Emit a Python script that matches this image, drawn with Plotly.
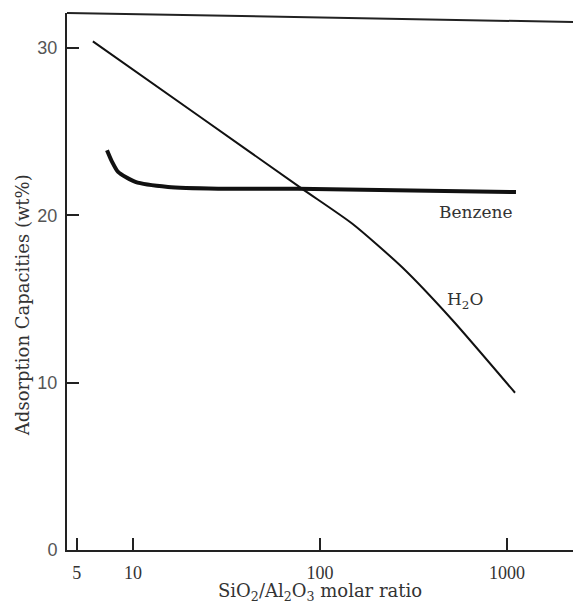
import plotly.graph_objects as go

h2o_ratio = [6.1, 22.8, 80, 149, 275, 510, 1104]
h2o_cap = [30.4, 25.9, 21.6, 19.5, 16.9, 13.75, 9.4]

benz_ratio = [7.26, 7.73, 8.32, 10.3, 15.4, 28.5, 76, 1117]
benz_cap = [23.9, 23.2, 22.6, 22.0, 21.7, 21.6, 21.6, 21.4]

x_ticks = [5, 10, 100, 1000]
y_ticks = [0, 10, 20, 30]

SERIF = "DejaVu Serif, serif"
TSERIF = "Liberation Serif, Times New Roman, serif"
TXT = "#333333"

fig = go.Figure()
fig.add_trace(go.Scatter(x=h2o_ratio, y=h2o_cap, mode="lines",
                         line=dict(color="#111111", width=2, shape="spline", smoothing=0.6),
                         showlegend=False, hoverinfo="skip"))
fig.add_trace(go.Scatter(x=benz_ratio, y=benz_cap, mode="lines",
                         line=dict(color="#111111", width=4, shape="spline", smoothing=0.6),
                         showlegend=False, hoverinfo="skip"))

fig.update_layout(
    width=573, height=605,
    margin=dict(l=67, r=0, t=13, b=55),
    paper_bgcolor="white", plot_bgcolor="white",
    font=dict(family=SERIF, size=17, color=TXT),
    xaxis=dict(type="log", range=[0.647, 3.353], tickvals=x_ticks,
               ticktext=[str(v) for v in x_ticks],
               ticks="inside", ticklen=12, tickwidth=2, tickcolor="#222",
               showline=True, linecolor="#222", linewidth=2,
               showgrid=False, zeroline=False, ticklabelstandoff=5,
               tickfont=dict(family=TSERIF, size=18, color=TXT)),
    yaxis=dict(range=[0, 32.1], tickvals=y_ticks,
               ticks="inside", ticklen=12, tickwidth=2, tickcolor="#222",
               showline=True, linecolor="#222", linewidth=2,
               showgrid=False, zeroline=False, ticklabelstandoff=4,
               tickfont=dict(family="Liberation Sans, Arial, sans-serif", size=18, color="#555")),
    annotations=[
        dict(x=0.5, y=0, xref="paper", yref="paper", yshift=-42, yanchor="middle",
             text="SiO<sub>2</sub>/Al<sub>2</sub>O<sub>3</sub> molar ratio",
             showarrow=False, font=dict(family=SERIF, size=18, color=TXT)),
        dict(x=0, y=0.456, xref="paper", yref="paper", xshift=-45,
             xanchor="center", yanchor="middle",
             text="Adsorption Capacities (wt%)", textangle=-90,
             showarrow=False, font=dict(family=SERIF, size=18, color=TXT)),
        dict(x=2.834, y=20.2, xref="x", yref="y", text="Benzene",
             showarrow=False, font=dict(family=SERIF, size=17, color=TXT)),
        dict(x=2.775, y=14.9, xref="x", yref="y", text="H<sub>2</sub>O",
             showarrow=False, font=dict(family=SERIF, size=17, color=TXT)),
    ],
    shapes=[dict(type="line", xref="paper", yref="paper", x0=0, y0=1, x1=1, y1=1 - 9 / 537,
                 line=dict(color="#222", width=2))],
)

fig.write_html("out.html")
